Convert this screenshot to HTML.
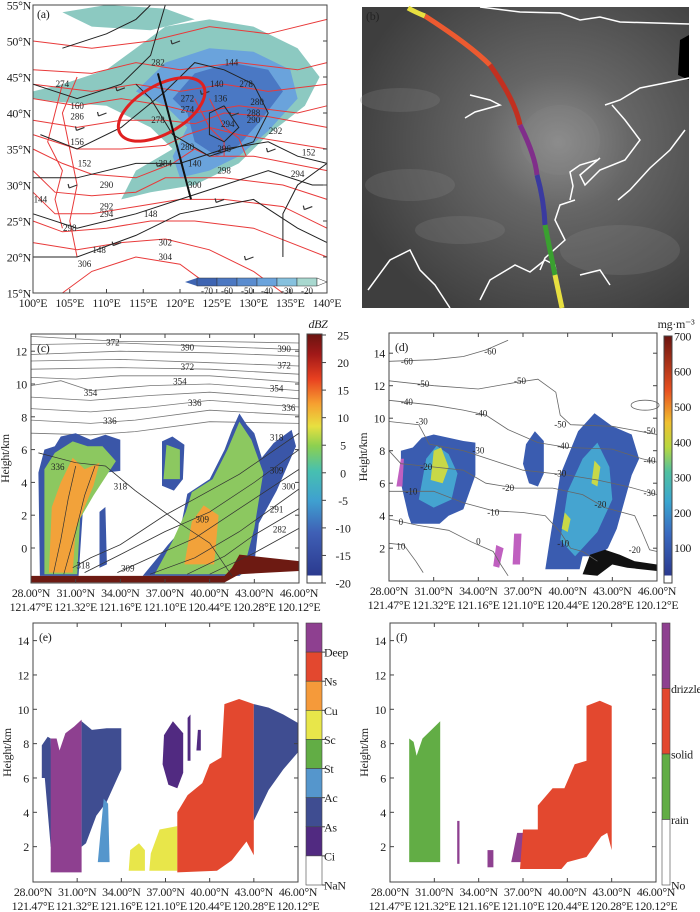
<!DOCTYPE html>
<html><head><meta charset="utf-8">
<style>
body{margin:0;background:#fff;}
svg{display:block;font-family:"Liberation Serif",serif;}
.t{font-size:12px;fill:#222;letter-spacing:-0.3px;}
.s{font-size:9px;letter-spacing:0;}
</style></head>
<body>
<svg id="fig" width="700" height="912" viewBox="0 0 700 912" xmlns="http://www.w3.org/2000/svg">
<defs>
<radialGradient id="sat" cx="0.6" cy="0.45" r="0.65"><stop offset="0" stop-color="#8e8e8e"/><stop offset="0.35" stop-color="#666"/><stop offset="1" stop-color="#3e3e3e"/></radialGradient>
<linearGradient id="cbc" x1="0" y1="1" x2="0" y2="0">
<stop offset="0" stop-color="#ffffff"/><stop offset="0.03" stop-color="#ffffff"/><stop offset="0.031" stop-color="#2b3a8f"/>
<stop offset="0.2" stop-color="#3f5fb5"/><stop offset="0.33" stop-color="#3fa0d0"/><stop offset="0.45" stop-color="#47c0b0"/>
<stop offset="0.55" stop-color="#8cd050"/><stop offset="0.63" stop-color="#e8e040"/><stop offset="0.72" stop-color="#f6a030"/>
<stop offset="0.82" stop-color="#e84020"/><stop offset="0.92" stop-color="#a01818"/><stop offset="1" stop-color="#6a1410"/></linearGradient>
<linearGradient id="cbd" x1="0" y1="1" x2="0" y2="0">
<stop offset="0" stop-color="#ffffff"/><stop offset="0.03" stop-color="#ffffff"/><stop offset="0.031" stop-color="#2b3a8f"/>
<stop offset="0.2" stop-color="#3a6ac0"/><stop offset="0.33" stop-color="#3aa6d0"/><stop offset="0.45" stop-color="#50c0a0"/>
<stop offset="0.55" stop-color="#b8d840"/><stop offset="0.65" stop-color="#f0c030"/><stop offset="0.78" stop-color="#e85020"/><stop offset="1" stop-color="#6a1410"/></linearGradient>
</defs>
<g id="pa"></g>
<g id="pb"></g>
<g id="pc"></g>
<g id="pd"></g>
<g id="pe"></g>
<g id="pf"></g>
</svg>
<script>
// ===== data =====
const latTicks=[28,31,34,37,40,43,46];
const latLabels=["28.00°N","31.00°N","34.00°N","37.00°N","40.00°N","43.00°N","46.00°N"];
const lonLabels=["121.47°E","121.32°E","121.16°E","121.10°E","120.44°E","120.28°E","120.12°E"];
const hTicksC=[0,2,4,6,8,10,12];
const hTicksD=[2,4,6,8,10,12,14];
const dbzTicks=[25,20,15,10,5,0,-5,-10,-15,-20];
const iwcTicks=[700,600,500,400,300,200,100];
const mapLonTicks=[100,105,110,115,120,125,130,135,140];
const mapLatTicks=[15,20,25,30,35,40,45,50,55];
const btCats=[-70,-60,-50,-40,-30,-20];
const cloudCats=["Deep","Ns","Cu","Sc","St","Ac","As","Ci","NaN"];
const cloudColors=["#8e4090","#e3482f","#f59a3a","#e8e64a","#62ad45","#5596cc","#3f4d91","#512a81","#ffffff"];
const phaseCats=["drizzle","solid","rain","No"];
const phaseColors=["#8e4090","#e3482f","#62ad45","#ffffff"];
// reflectivity blobs [lat,h]
const dbzOuter=[[[28.6,-1.7],[28.5,4.6],[28.9,6],[29.6,6.2],[30,6.8],[31,7],[32,6.6],[33,6.9],[34,6.6],[34,4.7],[33,4.6],[32,3.5],[31.5,2.5],[31.2,-1.7]],
 [[32.6,-1.2],[32.6,2.2],[33,2.5],[33.1,-1]],
 [[36.8,3.8],[36.8,6.5],[37.5,6.8],[38.3,6.3],[38.2,4.2],[37.6,3.5]],
 [[35.5,-1.7],[36.5,-0.6],[37.2,0.2],[38,1],[38.5,3.3],[40,4.2],[41,6],[41.5,7.2],[42,8.2],[42.5,7.5],[43,7],[43.5,5.5],[44.3,6.4],[45.5,7.2],[45.8,6.2],[44.5,3.5],[43.3,1.5],[43,-1],[42,-1.7]]];
const dbzMid=[[[28.9,-1.6],[28.9,4.8],[29.6,5.8],[30.8,6.5],[31.8,6.2],[32.8,6.2],[33.7,5.3],[32.2,3.2],[31.3,1.8],[31.1,-1.6]],
 [[36.9,4.2],[37.1,6.3],[38,6],[38,4.2]],
 [[36.3,-1.6],[37.5,0.4],[38.4,2.2],[38.8,3.4],[40.2,4.2],[41.2,6],[42,7.7],[42.8,6.6],[43.6,4.6],[43,1.2],[42.2,-1.6]]];
const dbzCore=[[[29.2,-1.5],[29.4,2.5],[30,4],[30.8,5.5],[31.6,4.8],[32.6,5.2],[32.2,3.8],[31,1.2],[30.8,-1.5]],
 [[38.3,-1],[38.8,1.6],[39.6,2.6],[40.6,2],[40.3,-1]]];
const groundC=[[28,-1.7],[41,-1.7],[41.5,-1.2],[42,-0.4],[46,-0.8],[46,-1.4],[42,-1.6],[41,-2.1],[28,-2.1]];
const thetaUpper=[[[28,12.9],[34,12.6],[40,12.6],[46,12.5]],[[28,12.4],[34,12.5],[40,12.3],[46,12.1]],[[28,11.8],[34,12],[40,11.9],[46,11.7]],
 [[28,11.4],[34,11.5],[40,11.3],[46,11.1]],[[28,10.9],[34,11],[40,10.9],[46,10.6]],[[28,10.4],[31,10.3],[34,10.5],[40,10.5],[46,10.1]],
 [[28,9.9],[30,10.2],[32,9.6],[36,9.9],[40,10],[46,9.6]],[[28,9.2],[32,9],[36,9.3],[40,9.5],[46,9.1]],[[28,8.5],[32,8.3],[36,8.6],[40,9],[46,8.6]],
 [[28,7.8],[32,7.6],[35,7.8],[40,8.4],[46,8.1]],[[28,7],[32,6.9],[35,7.1],[40,7.7],[46,7.6]]];
const thetaLower=[[[28.5,5.8],[31,5.2],[33,5],[35,3.5],[38,1.5],[40,0.3],[41.5,-1.7]],[[30.8,-1.2],[32,-0.6],[34,0.2],[37,2],[39,3],[42,4.5],[46,7]],
 [[31.6,-1.5],[34,-0.4],[37,1],[40,2.2],[43,4],[46,6]],[[33.8,-1.5],[36,-0.6],[39,0.6],[42,2.4],[46,4.8]],[[36,-1.6],[39,-0.6],[42,1],[46,3.6]],
 [[38.5,-1.6],[41,-0.5],[43,0.8],[46,2.4]],[[40,-1.6],[43,-0.3],[46,1.2]],[[29.5,-1.6],[30,0.5],[30.5,3],[31,5]],[[30.2,-1.6],[31,1],[31.6,3.2],[32.3,5]]];
const tempLines=[[[28,13.5],[31,13.6],[33,13.8],[34.5,14.2],[36,14.8]],
 [[28,12.3],[31,12],[34,11.8],[36.5,12.2],[38,12.4],[39.2,11.6],[39.5,10.2],[40.2,9.6],[43,9.5],[46,9]],
 [[28,11.1],[31,10.8],[33,10.5],[34.5,10.2],[36,9.3],[38,8.5],[40,8.2],[43,8.1],[45,7.5],[46,7.3]],
 [[28,9.8],[30,9.6],[30.7,8.4],[33,8],[35,7.4],[37,6.8],[40,6.5],[42,6.2],[44,5.8],[46,5.3]],
 [[28,8],[28.8,7.2],[31,7],[33,6.8],[34.5,6],[36.5,5.7],[39,5.7],[41,5.3],[42.5,4.5],[44.5,4],[45,3],[45.5,1.9],[46,1.8]],
 [[28,5.5],[31,5.5],[33,4.8],[35,4.3],[37,4.2],[38.5,4],[39.5,3],[40.2,2],[41,1.8],[42,1.2]],
 [[28,3.8],[30,3.4],[32,3.1],[33.5,2.4],[35,1.8],[35.5,1],[36,0.3]],
 [[28,2.3],[29,2.2],[29.8,1.2],[30.3,0.5]]];
const tempLabels=[["-60",29.2,13.5],["-60",34.8,14.1],["-50",30.3,12.1],["-50",36.8,12.3],["-50",39.5,9.6],["-50",45.5,9.2],["-40",29.2,11],["-40",34.2,10.3],["-40",39.7,8.3],["-40",45.5,7.4],["-30",30.2,9.8],["-30",34,8],["-30",39.5,6.6],["-30",45.5,5.4],["-20",30.5,7],["-20",36,5.7],["-20",42.2,4.7],["-20",44.5,1.9],["-10",29.5,5.5],["-10",35,4.2],["-10",39.7,2.3],["0",28.8,3.6],["0",34,2.4],["10",28.8,2.1]];
const iwcOuter=[[[28.8,8],[29.6,8.2],[30.2,8.8],[31,9],[32,8.8],[33,8.6],[33.8,8.5],[33.8,6.5],[33,4.4],[32,4],[31.4,3.5],[29.5,3.5],[29.3,4],[28.8,6]],
 [[37,7.2],[37.2,8.4],[37.8,9.2],[38.4,8.6],[38.4,6.6],[38,5.8],[37.4,6]],
 [[38.5,0.7],[38.8,2.5],[39.5,6.5],[40.7,9.2],[41.8,10.3],[43,9.5],[44.3,9],[44.8,7.5],[44.3,6.5],[43.3,3.2],[42.7,2],[42,1.5],[41,1.5],[40.8,0.7]]];
const iwcMid=[[[30,5],[30.5,7.5],[31.2,8.3],[32,7.8],[32.6,6.6],[32.2,5],[31,4.5]],
 [[39.5,2.5],[40,5.5],[41,7.5],[42,8.5],[42.8,7],[43,5],[42,3],[40.5,1.5]]];
const iwcCore=[[[30.8,6.2],[31,8],[31.5,8.2],[32,7],[31.6,6]],[[39.6,3.2],[39.8,4.2],[40.2,3.8],[40,3]],[[41.6,6],[41.8,7.4],[42.2,7],[42,5.8]]];
const iwcBlack=[[[41,0.4],[41.5,1.6],[42.5,1.9],[43.5,1.6],[44.5,1.2],[46,1],[46,0.6],[44,0.8],[43,1],[42,0.3]]];
const iwcMagenta=[[[28.5,5.8],[28.8,7.5],[29,7.5],[28.9,5.8]],[[35,0.9],[35.2,2.2],[35.7,2],[35.4,0.8]],[[36.3,1],[36.4,2.9],[36.9,2.9],[36.8,1]]];
const cloudBlobs=[[6,[[28.6,6],[28.6,7.9],[29,8.4],[29.2,8.3],[29.4,2],[29.2,2],[28.8,6]]],
 [0,[[29.2,0.5],[29.2,8.3],[29.6,8.3],[29.8,7.6],[30.2,8.6],[30.8,9],[31.3,9.4],[31.3,0.5]]],
 [6,[[31.3,2],[31.3,9.3],[32,8.8],[33,8.9],[34,8.9],[34,6.5],[33,4.6],[32.3,3.8],[31.6,2.2]]],
 [5,[[32.4,1.1],[32.8,4.8],[33.1,4.5],[33.2,1.1]]],
 [3,[[34.5,0.6],[34.6,1.8],[35.2,2.2],[35.6,1.8],[35.6,0.6]]],
 [3,[[35.9,0.6],[36,1.6],[36.6,3],[37.8,3.2],[37.8,0.6]]],
 [7,[[36.8,6.8],[36.9,8.5],[37.5,9.3],[38.2,8.6],[38.2,6.3],[37.8,5.4],[37.2,5.6]]],
 [7,[[38.5,7],[38.5,9.5],[38.7,9.7],[38.7,7]]],
 [7,[[39.1,7.6],[39.2,8.8],[39.4,8.8],[39.4,7.6]]],
 [1,[[37.8,0.5],[37.8,4],[38.5,5],[39.5,5.7],[40,6.8],[40.8,7.2],[41,10.3],[42,10.6],[43,10.3],[43,1.5],[42.5,2.3],[41.5,1.2],[40.5,0.6]]],
 [6,[[43,3.5],[43,10.3],[44,10.1],[45,9.7],[46,9.2],[46,7.5],[45,6.5],[44,5.3]]]];
const phaseBlobs=[[2,[[29.3,1.1],[29.3,8.3],[29.6,8.1],[29.8,7.3],[30.2,8.3],[30.8,8.8],[31.4,9.3],[31.4,1.1]]],
 [0,[[32.55,1],[32.55,3.5],[32.7,3.5],[32.7,1]]],
 [0,[[34.6,0.8],[34.6,1.8],[35,1.8],[35,0.8]]],
 [0,[[36.2,1.1],[36.3,1.5],[36.6,2.8],[37,2.8],[37,1.1]]],
 [1,[[36.8,0.7],[37,3],[38,3],[38,4.4],[39,5.4],[39.8,5.4],[40.5,6.8],[41.3,7],[41.3,10.2],[42.2,10.5],[43,10.2],[43,1.8],[42.7,2.8],[42.3,2.6],[41.3,1.4],[40,1.1],[39.6,0.7]]]];

// ===== helpers =====
const NS='http://www.w3.org/2000/svg';
function mk(parent,tag,attrs){const e=document.createElementNS(NS,tag);for(const k in attrs)e.setAttribute(k,attrs[k]);parent.appendChild(e);return e;}
function txt(parent,x,y,s,cls,anchor,extra){const e=mk(parent,'text',Object.assign({x:x,y:y,'class':cls||'t','text-anchor':anchor||'middle'},extra||{}));e.textContent=s;return e;}
function panel(x0,x1,y0,y1,zeroY,pxkm){return {x0,x1,y0,y1,sx:l=>x0+(l-28)/18*(x1-x0),sy:h=>zeroY-h*pxkm};}
function pts(P,arr){return arr.map(p=>P.sx(p[0]).toFixed(1)+','+P.sy(p[1]).toFixed(1)).join(' ');}
function poly(g,P,arr,fill,name){const e=mk(g,'polygon',{points:pts(P,arr),fill:fill});

return e;}
function line(g,P,arr,stroke,w,name){const e=mk(g,'polyline',{points:pts(P,arr),fill:'none',stroke:stroke,'stroke-width':w});

return e;}
function axes(g,P,hticks,label){
 const f=mk(g,'rect',{x:P.x0,y:P.y0,width:P.x1-P.x0,height:P.y1-P.y0,fill:'none',stroke:'#444','stroke-width':1});
 
 
 latTicks.forEach((l,i)=>{const x=P.sx(l);
  mk(g,'line',{x1:x,x2:x,y1:P.y1,y2:P.y1-4,stroke:'#444'});mk(g,'line',{x1:x,x2:x,y1:P.y0,y2:P.y0+4,stroke:'#444'});
  const a=txt(g,x,P.y1+14,latLabels[i]);
  const b=txt(g,x,P.y1+28,lonLabels[i]);});
 hticks.forEach(h=>{const y=P.sy(h);mk(g,'line',{x1:P.x0,x2:P.x0+4,y1:y,y2:y,stroke:'#444'});mk(g,'line',{x1:P.x1,x2:P.x1-4,y1:y,y2:y,stroke:'#444'});
  const t=txt(g,P.x0-4,y+4.5,String(h),'t','end');});
 const yl=txt(g,0,0,'Height/km','t','middle',{transform:`translate(${P.x0-22},${(P.y0+P.y1)/2}) rotate(-90)`});
 
 const pl=txt(g,P.x0+6,P.y0+18,label,'t','start');
}

// ===== panel C =====
(function(){const g=document.getElementById('pc');const P=panel(31,299,334,583,548,16.4);
 thetaUpper.forEach(a=>line(g,P,a,'#777',0.8,'theta-contour'));
 thetaLower.forEach(a=>line(g,P,a,'#777',0.8,'theta-contour'));
 dbzOuter.forEach(a=>poly(g,P,a,'#3a56a8','echo-outer'));
 dbzMid.forEach(a=>poly(g,P,a,'#8cc860','echo-mid'));
 dbzCore.forEach(a=>poly(g,P,a,'#f2a23a','echo-core'));
 poly(g,P,groundC,'#6d1a12','surface-clutter');
 thetaLower.forEach(a=>line(g,P,a,'#333',0.7,'theta-contour-over'));
 [["372",33.5,12.6],["390",38.5,12.3],["390",45,12.2],["372",38.5,11.1],["372",45,11.2],["354",32,9.5],["354",38,10.2],["354",44.5,9.8],["336",39,8.9],["336",45.3,8.6],["336",33.3,7.8],["318",44.5,6.8],["300",45.3,3.8],["291",44.5,2.4],["282",44.7,1.2],["318",34,3.8],["309",39.5,1.8],["309",34.5,-1.2],["336",29.8,5],["318",31.5,-1],["309",44.5,4.8]].forEach(l=>{
  const t=txt(g,P.sx(l[1]),P.sy(l[2])+4,l[0],'t s');});
 axes(g,P,hTicksC,'(c)');
 const cb=mk(g,'rect',{x:307,y:334,width:15,height:249,fill:'url(#cbc)',stroke:'#444'});
 
 dbzTicks.forEach((v,i)=>{const y=335+i*(583-335)/9;mk(g,'line',{x1:322,x2:326,y1:y,y2:y,stroke:'#444'});
  const t=txt(g,343,y+4.5,String(v),'t','middle');});
 const u=txt(g,318,328,'dBZ','t','middle',{'font-style':'italic'});
})();

// ===== panel D =====
(function(){const g=document.getElementById('pd');const P=panel(389,657,333,581,580.7,16.25);
 iwcOuter.forEach(a=>poly(g,P,a,'#3a5cb0','iwc-outer'));
 iwcMid.forEach(a=>poly(g,P,a,'#45a4d0','iwc-mid'));
 iwcCore.forEach(a=>poly(g,P,a,'#c8d848','iwc-core'));
 iwcMagenta.forEach(a=>poly(g,P,a,'#c060c0','iwc-liquid'));
 iwcBlack.forEach(a=>poly(g,P,a,'#111','surface-mask'));
 tempLines.forEach(a=>line(g,P,a,'#666',0.8,'temperature-contour'));
 const el=mk(g,'ellipse',{cx:P.sx(45.2),cy:P.sy(10.8),rx:14,ry:5,fill:'none',stroke:'#666','stroke-width':0.8});
 
 tempLabels.forEach(l=>{const t=txt(g,P.sx(l[1]),P.sy(l[2])+3,l[0],'t s');});
 axes(g,P,hTicksD,'(d)');
 const cb=mk(g,'rect',{x:664,y:336,width:8,height:247,fill:'url(#cbd)',stroke:'#444'});
 
 iwcTicks.forEach(v=>{const y=583-v*0.353;const t=txt(g,674,y+4.5,String(v),'t','start');});
 const u=txt(g,676,328,'mg·m⁻³','t','middle');
})();

// ===== panel E =====
(function(){const g=document.getElementById('pe');const P=panel(33,298,623,882,881,17.17);
 cloudBlobs.forEach(b=>poly(g,P,b[1],cloudColors[b[0]],'cloud-'+cloudCats[b[0]].toLowerCase()));
 axes(g,P,hTicksD,'(e)');
 const step=(885-623)/9;
 cloudColors.forEach((c,i)=>{const r=mk(g,'rect',{x:306,y:623+i*step,width:16,height:step,fill:c,stroke:'#444','stroke-width':0.6});
  });
 cloudCats.forEach((c,i)=>{const y=623+(i+1)*step;mk(g,'line',{x1:322,x2:325,y1:y,y2:y,stroke:'#444'});
  const t=txt(g,324,y+4.5,c,'t','start');});
})();

// ===== panel F =====
(function(){const g=document.getElementById('pf');const P=panel(390,656,623,882,881,17.17);
 phaseBlobs.forEach(b=>poly(g,P,b[1],phaseColors[b[0]],'phase-'+phaseCats[b[0]]));
 axes(g,P,hTicksD,'(f)');
 const step=(885-623)/4;
 phaseColors.forEach((c,i)=>{const r=mk(g,'rect',{x:662,y:623+i*step,width:8,height:step,fill:c,stroke:'#444','stroke-width':0.6});
  });
 phaseCats.forEach((c,i)=>{const y=623+(i+1)*step;const t=txt(g,671,y+4.5,c,'t','start');});
})();

// ===== panel A (map) =====
(function(){const g=document.getElementById('pa');
 const X=lo=>33+(lo-100)/40*294, Y=la=>293-(la-15)/40*288;
 const cl=a=>a.map(p=>X(p[0]).toFixed(1)+','+Y(p[1]).toFixed(1)).join(' ');
 [[['#8cc9c1'],[[100,43],[104,44],[110,46],[114,49],[118,52],[124,53],[130,52],[136,49],[139,45],[137,41],[132,37],[128,33],[122,30],[116,29],[112,28],[114,32],[119,35],[116,38],[110,41],[104,41.5],[100,42]]],
  [['#6aa3dc'],[[114,43],[118,47],[124,49],[130,48.5],[135,46],[136,42],[132,37.5],[128,34],[124,32],[120,31],[119,34],[121,38],[118,41]]],
  [['#4a78c4'],[[119,42],[122,45.5],[127,47],[132,46],[134,43],[131,39],[128,35.5],[125,34],[122,36],[121,40]]],
  [['#8cc9c1'],[[104,54],[110,55],[118,54.5],[122,53],[116,51.5],[108,52]]]].forEach(b=>{
  const e=mk(g,'polygon',{points:cl(b[1]),fill:b[0][0]});});
 const reds=[[[100,50],[108,49],[116,50],[124,52],[132,51],[140,53]],[[100,46],[108,45.5],[114,47],[120,46],[128,47],[136,46],[140,47]],
  [[100,44],[108,43],[114,44],[120,43],[126,44],[132,43],[140,44]],[[100,42],[106,41],[112,42],[118,41],[122,40],[128,41],[136,40],[140,41]],
  [[100,39],[106,38],[112,39],[118,39],[122,38.5],[126,40],[132,39.5],[140,38]],[[100,37],[106,35],[112,35],[118,35.5],[121,37],[124,38],[128,37],[134,36],[140,35]],
  [[100,35],[104,33],[108,31.5],[114,31],[119,33],[122,35],[124,34],[130,34],[140,32]],[[100,32],[103,29],[108,28.5],[114,29],[118,31],[122,31],[126,31],[134,30],[140,28]],
  [[100,29],[103,26],[108,26],[114,27],[120,28],[126,28],[134,27],[140,24]],[[100,25],[104,23.5],[110,24],[116,25],[122,25],[130,24],[140,20]],
  [[100,22],[106,21],[112,22],[118,22.5],[124,21],[130,18],[134,15]],[[104,15],[108,18],[114,20],[120,19],[124,16]],
  [[104,44],[103,40],[102,36],[104,32],[103,28],[104,24]],[[106,45],[104,40],[105,35],[106,30],[105,25],[106,20]],[[122,42],[124,38],[126,36],[126,34]],[[124,42],[126,38],[128,36.5],[129,34]]];
 reds.forEach(a=>{const e=mk(g,'polyline',{points:cl(a),fill:'none',stroke:'#e83a3a','stroke-width':1});});
 const blacks=[[[104,49],[110,51],[114,53],[116,55]],[[100,44],[106,42],[112,44],[116,48],[118,55]],[[101,37],[106,35],[112,38],[118,43],[122,47],[126,46],[130,44],[132,40],[130,36],[124,34],[119,37],[116,42],[114,44]],
  [[100,31],[106,31],[114,33],[120,33],[126,35],[132,36],[136,34],[140,33]],[[100,26],[106,24],[114,26],[120,28],[126,30],[132,32],[138,30],[140,30]],[[100,20],[106,20],[114,23],[120,26],[130,28],[136,24],[140,22]],[[126,41],[128,38],[126,36],[124,37],[124,40],[126,41]],[[134,20],[134,26],[136,30],[140,33]]];
 blacks.forEach(a=>{const e=mk(g,'polyline',{points:cl(a),fill:'none',stroke:'#222','stroke-width':1});});
 [[112.5,43.5],[110,40],[124,43],[128,40],[107,38],[118,33],[133,35],[126,28],[112,22],[130,20],[120,50],[106,30],[138,27]].forEach(p=>{
  const e=mk(g,'path',{d:`M${X(p[0])},${Y(p[1])} l-8,3 m0,0 l-1,-4`,stroke:'#333',fill:'none','stroke-width':1.2});});
 const ell=mk(g,'ellipse',{cx:X(117.5),cy:Y(40.5),rx:48,ry:24,fill:'none',stroke:'#e02020','stroke-width':3,transform:`rotate(-30 ${X(117.5)} ${Y(40.5)})`});
 
 const tr=mk(g,'line',{x1:X(117),y1:Y(45.5),x2:X(121.5),y2:Y(28),stroke:'#111','stroke-width':2});
 [["282",117,47],["274",104,44],["272",121,42],["274",121,40.5],["278",117,39],["280",121,35.3],["284",118,33],["290",110,30],["292",110,27],["294",110,26],["298",105,24],["302",118,22],["304",118,20],["306",107,19],["286",106,39.5],["294",126.5,38.5],["278",129,44],["280",130.5,41.5],["288",130,40],["290",130,39],["292",133,37.5],["296",126,35],["298",126,32],["300",122,30],["294",136,31.5]].forEach(l=>{
  const t=txt(g,X(l[1]),Y(l[2])+3,l[0],'t s','middle',{fill:'#e83a3a'});});
 [["144",127,47],["140",125,44],["136",125.5,42],["160",106,41],["156",106,36],["152",107,33],["148",116,26],["148",109,21],["144",101,28],["140",122,33],["152",137.5,34.5]].forEach(l=>{
  const t=txt(g,X(l[1]),Y(l[2])+3,l[0],'t s','middle',{fill:'#111'});});
 const f=mk(g,'rect',{x:33,y:5,width:294,height:288,fill:'none',stroke:'#444'});
 mapLonTicks.forEach(lo=>{const t=txt(g,X(lo),307,lo+'°E');mk(g,'line',{x1:X(lo),x2:X(lo),y1:293,y2:289,stroke:'#444'});});
 mapLatTicks.forEach(la=>{const t=txt(g,31,Y(la)+4.5,la+'°N','t','end');mk(g,'line',{x1:327,x2:323,y1:Y(la),y2:Y(la),stroke:'#444'});});
 const pl=txt(g,37,18,'(a)','t','start');
 const bc=['#3e64b2','#4c78c2','#5a8ccf','#6aa3dc','#86c1de','#a8d8cf'];
 mk(g,'polygon',{points:'185,282 197,278 197,286',fill:bc[0]});
 bc.forEach((c,i)=>{const r=mk(g,'rect',{x:197+i*20,y:278,width:20,height:8,fill:c,stroke:'#333','stroke-width':0.5});});
 mk(g,'polygon',{points:'317,278 327,282 317,286',fill:'#fff',stroke:'#333','stroke-width':0.5});
 btCats.forEach((v,i)=>{const t=txt(g,197+i*20+10,294,String(v),'t s');});
})();

// ===== panel B (satellite) =====
(function(){const g=document.getElementById('pb');
 const r=mk(g,'rect',{x:362,y:7,width:327,height:301,fill:'url(#sat)'});
 [[400,100,40,12],[410,185,45,16],[560,140,40,35],[620,250,60,25],[460,230,45,14]].forEach(e=>{const el=mk(g,'ellipse',{cx:e[0],cy:e[1],rx:e[2],ry:e[3],fill:'#888',opacity:0.25});});
 mk(g,'polygon',{points:'680,40 689,35 689,80 678,75',fill:'#000'});
 ['M480,7 L520,12 L560,13 L580,20 L600,17 L620,22 L689,24','M470,95 L490,100 L500,105 L475,112 L465,118','M605,105 L620,100 L640,88 L660,84 L689,78','M612,105 L625,120 L640,140 L625,160 L600,170 L585,185 L580,175 L600,158','M597,160 L580,165 L570,172 L573,186 L570,200','M575,200 L560,205 L555,220 L565,240 L545,258 L540,270','M368,290 L390,260 L410,250 L420,270 L435,285 L450,308','M480,300 L490,280 L515,265 L530,272 L545,260 L555,265 L560,300','M618,200 L630,190 L650,168 L670,150 L685,130','M580,275 L600,270 L610,285'].forEach(d=>{
  const p=mk(g,'path',{d:d,fill:'none',stroke:'#fff','stroke-width':1.5});});
 const segs=[['#e8e040','M408,8 Q415,12 425,16'],['#ec5a30','M425,16 Q470,45 490,65'],['#c23020','M490,65 Q515,100 520,125'],['#802e8a','M520,125 Q535,155 537,175'],['#3a3aa0','M537,175 Q544,200 545,225'],['#3aa030','M545,225 L555,275'],['#e8e040','M555,275 L562,308']];
 segs.forEach(s=>{const p=mk(g,'path',{d:s[1],fill:'none',stroke:s[0],'stroke-width':5});});
 const pl=txt(g,366,20,'(b)','t','start',{fill:'#fff'});
})();
</script>
</body></html>
